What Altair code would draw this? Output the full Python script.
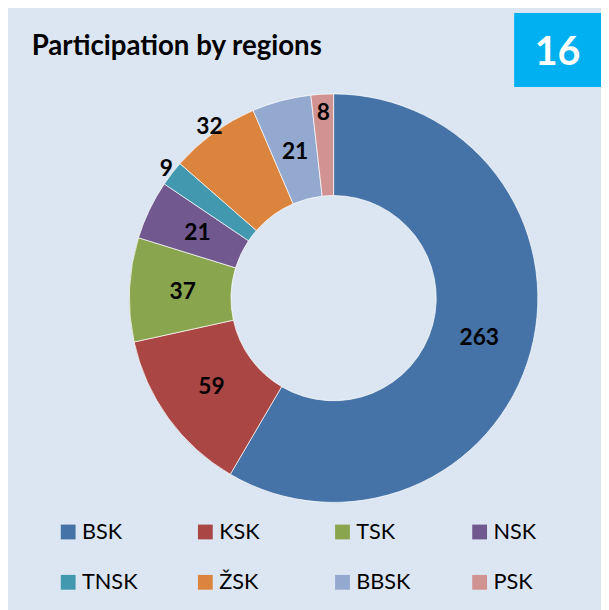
import altair as alt
import pandas as pd

# ---- data ----
regions = ["BSK", "KSK", "TSK", "NSK", "TNSK", "ŽSK", "BBSK", "PSK"]
counts = [263, 59, 37, 21, 9, 32, 21, 8]
colors = ["#4572a7", "#aa4643", "#89a54e", "#71588f", "#4198af", "#db843d", "#93a9cf", "#d19392"]
title_text = "Participation by regions"
badge_text = "16"

# ---- layout ----
W, H = 601, 602
CX, CY = 330, 290
INNER_R, OUTER_R = 104, 207
FONT = "Lato"
# label rings: inside the ring by default, outside for the thin slices
label_groups = [
    (153, ["BSK", "KSK", "TSK", "NSK", "BBSK"]),
    (214, ["TNSK", "ŽSK"]),
    (188, ["PSK"]),
]

df = pd.DataFrame({"region": regions, "count": counts, "idx": list(range(len(regions)))})

arc = alt.Chart(df).mark_arc(
    innerRadius=INNER_R, outerRadius=OUTER_R, stroke="#ffffff", strokeWidth=0.7
).encode(
    theta=alt.Theta("count:Q", stack=True),
    color=alt.Color(
        "region:N",
        sort=regions,
        scale=alt.Scale(domain=regions, range=colors),
        legend=alt.Legend(
            title=None, orient="none", legendX=50, legendY=516,
            direction="horizontal", columns=4, symbolType="square",
            symbolSize=225, symbolStrokeWidth=0, labelFont=FONT,
            labelFontSize=22, labelColor="black", labelOffset=3,
            columnPadding=57, rowPadding=29, gridAlign="all", padding=0,
        ),
    ),
    order=alt.Order("idx:Q"),
    x=alt.value(CX),
    y=alt.value(CY),
)

label_layers = []
for r, members in label_groups:
    label_layers.append(
        alt.Chart(df).mark_text(
            radius=r, font=FONT, fontSize=23, fontWeight="bold", color="black"
        ).encode(
            theta=alt.Theta("count:Q", stack=True),
            text=alt.condition(
                alt.FieldOneOfPredicate(field="region", oneOf=members),
                alt.Text("count:Q"),
                alt.value(""),
            ),
            order=alt.Order("idx:Q"),
            x=alt.value(CX),
            y=alt.value(CY),
        )
    )

title_df = pd.DataFrame({"t": [title_text]})
title = alt.Chart(title_df).mark_text(
    align="left", baseline="alphabetic", font=FONT, fontSize=28,
    fontWeight="bold", color="black"
).encode(text="t:N", x=alt.value(24), y=alt.value(44))

badge_df = pd.DataFrame({"t": [badge_text]})
badge_rect = alt.Chart(badge_df).mark_rect(color="#00b0f0").encode(
    x=alt.value(513), x2=alt.value(W), y=alt.value(1), y2=alt.value(76)
)
badge_txt = alt.Chart(badge_df).mark_text(
    align="center", baseline="middle", font=FONT, fontSize=40,
    fontWeight="bold", color="white"
).encode(text="t:N", x=alt.value(557), y=alt.value(42))

chart = alt.layer(badge_rect, badge_txt, title, arc, *label_layers).properties(
    width=W, height=H, padding=0, background="#dce6f2"
).configure_view(stroke=None)

chart.save("out.html", embed_options={"renderer": "svg", "actions": False})
